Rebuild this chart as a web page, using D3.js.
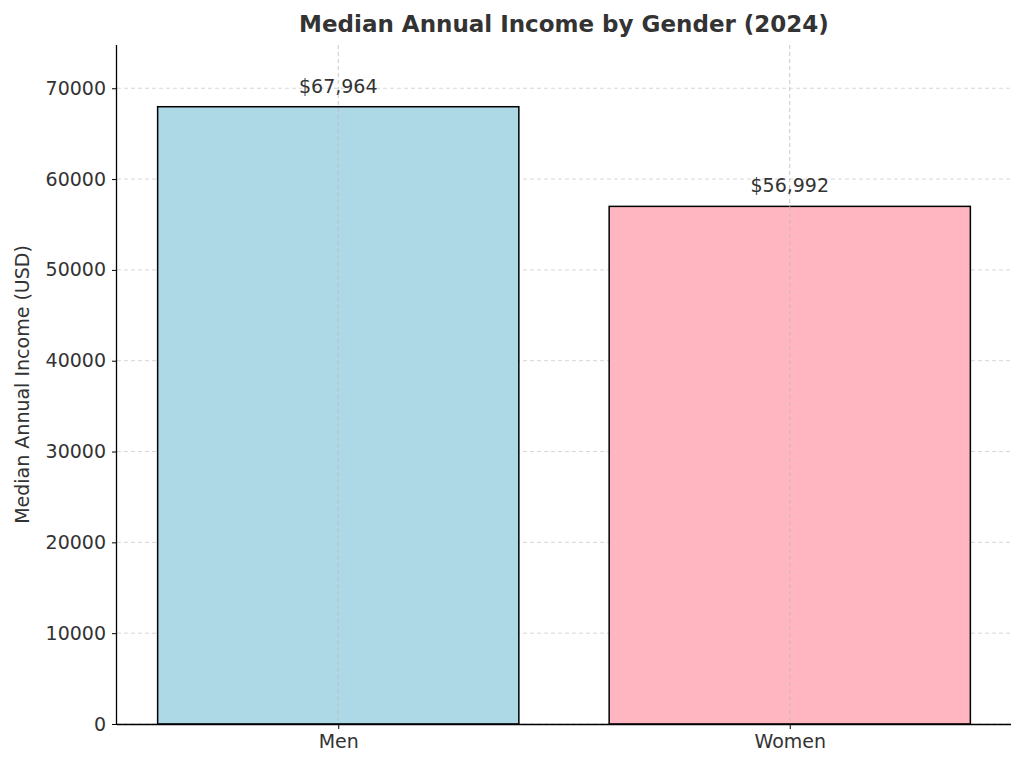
<!DOCTYPE html>
<html>
<head>
<meta charset="utf-8">
<script src="https://cdn.jsdelivr.net/npm/d3@7"></script>
<style>
  body { margin: 0; background: #fff; }
  text { font-family: "DejaVu Sans", sans-serif; fill: #333; }
</style>
</head>
<body>
<svg id="chart" width="1024" height="765"></svg>
<script>
const categories = ['Men', 'Women'];
const incomes = [67964, 56992];
const colors = ['#add8e6', '#ffb6c1'];
const yTicks = [0, 10000, 20000, 30000, 40000, 50000, 60000, 70000];

const svg = d3.select('#chart');
const mLeft = 117, mRight = 1011, mTop = 45, mBottom = 724;

const x = d3.scaleLinear().domain([-0.49, 1.49]).range([mLeft, mRight]);
const y = d3.scaleLinear().domain([0, d3.max(incomes) * 1.1]).range([mBottom, mTop]);
const barW = x(0.4) - x(-0.4);

// grid
svg.append('g').selectAll('line').data(yTicks).enter().append('line')
  .attr('x1', mLeft).attr('x2', mRight)
  .attr('y1', d => y(d)).attr('y2', d => y(d))
  .attr('stroke', '#ccc').attr('stroke-dasharray', '4,3').attr('stroke-width', 0.8);

// bars
svg.append('g').selectAll('rect').data(incomes).enter().append('rect')
  .attr('x', (d, i) => x(i) - barW / 2)
  .attr('y', d => y(d))
  .attr('width', barW)
  .attr('height', d => mBottom - y(d))
  .attr('fill', (d, i) => colors[i])
  .attr('stroke', '#000').attr('stroke-width', 1.5);

// vertical grid drawn over bars like matplotlib
svg.append('g').selectAll('line').data(categories).enter().append('line')
  .attr('x1', (d, i) => x(i)).attr('x2', (d, i) => x(i))
  .attr('y1', mTop).attr('y2', mBottom)
  .attr('stroke', '#bbb').attr('stroke-dasharray', '4,3').attr('stroke-width', 0.8);

// value labels
svg.append('g').selectAll('text').data(incomes).enter().append('text')
  .attr('x', (d, i) => x(i))
  .attr('y', d => y(d) - 14)
  .attr('text-anchor', 'middle')
  .style('font-size', '19px')
  .text(d => '$' + d3.format(',')(d));

// axes
const yAxis = svg.append('g').attr('transform', `translate(${mLeft},0)`)
  .call(d3.axisLeft(y).tickValues(yTicks).tickFormat(d3.format('d')).tickSize(5).tickPadding(6));
yAxis.select('.domain').attr('d', `M-0.5,${mTop}V${mBottom}`).attr('stroke', '#000').attr('stroke-width', 1.3);
yAxis.selectAll('text').style('font-size', '19px').attr('fill', '#333');

const xAxis = svg.append('g').attr('transform', `translate(0,${mBottom})`)
  .call(d3.axisBottom(x).tickValues([0, 1]).tickFormat(i => categories[i]).tickSize(5).tickPadding(6));
xAxis.select('.domain').attr('d', `M${mLeft},0.5H${mRight}`).attr('stroke', '#000').attr('stroke-width', 1.3);
xAxis.selectAll('text').style('font-size', '19px').attr('fill', '#333');

svg.append('text')
  .attr('transform', `translate(29,${(mTop + mBottom) / 2}) rotate(-90)`)
  .attr('text-anchor', 'middle')
  .style('font-size', '19px')
  .text('Median Annual Income (USD)');

svg.append('text')
  .attr('x', (mLeft + mRight) / 2).attr('y', 32)
  .attr('text-anchor', 'middle')
  .style('font-size', '23px').style('font-weight', 'bold')
  .text('Median Annual Income by Gender (2024)');
</script>
</body>
</html>
